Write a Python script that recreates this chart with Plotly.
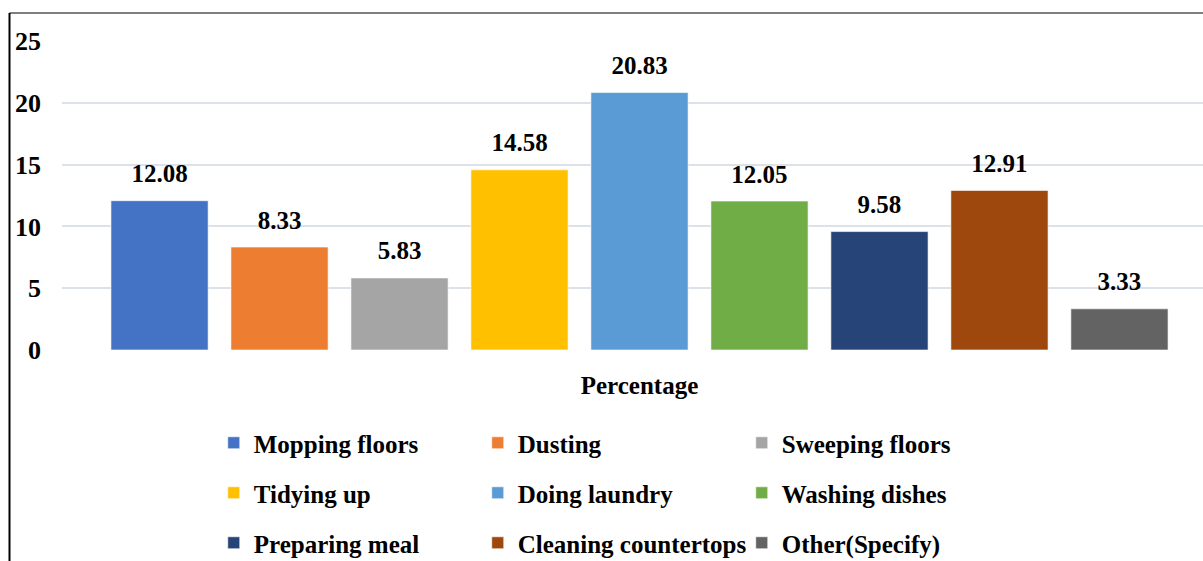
import plotly.graph_objects as go

category = ["Percentage"]
series_names = ["Mopping floors", "Dusting", "Sweeping floors", "Tidying up",
                "Doing laundry", "Washing dishes", "Preparing meal",
                "Cleaning countertops", "Other(Specify)"]
values = [12.08, 8.33, 5.83, 14.58, 20.83, 12.05, 9.58, 12.91, 3.33]
colors = ["#4472C4", "#ED7D31", "#A5A5A5", "#FFC000", "#5B9BD5",
          "#70AD47", "#264478", "#9E480E", "#636363"]
legend_rows = ["legend", "legend", "legend", "legend2", "legend2", "legend2",
               "legend3", "legend3", "legend3"]
y_ticks = [0, 5, 10, 15, 20, 25]

FONT = "Times New Roman, Liberation Serif, serif"

fig = go.Figure()
for i, (name, v, c) in enumerate(zip(series_names, values, colors)):
    fig.add_trace(go.Bar(
        x=category, y=[v], name=name, offsetgroup=str(i),
        marker=dict(color=c, line=dict(color="rgba(255,255,255,0.6)", width=1)),
        legend=legend_rows[i],
    ))
for i, v in enumerate(values):
    fig.add_trace(go.Scatter(
        x=category, y=[v], mode="markers+text", offsetgroup=str(i),
        text=[f"{v:.2f}"], textposition="top center",
        marker=dict(size=18, color="rgba(0,0,0,0)"),
        textfont=dict(family=FONT, size=25, color="black", weight="bold"),
        showlegend=False, hoverinfo="skip", cliponaxis=False,
    ))

W, H = 1203, 561
L, R, T, B = 62, 0, 41, 211
pw = W - L - R
full_pw = 1155  # width of the original plotting area (extends past the image)

legend_common = dict(
    orientation="h", xanchor="left", yanchor="middle", x=0.133,
    entrywidth=219, entrywidthmode="pixels",
    font=dict(family=FONT, size=25, color="black", weight="bold"),
    bgcolor="rgba(0,0,0,0)", tracegroupgap=0, itemclick=False,
)

fig.update_layout(
    width=W, height=H,
    margin=dict(l=L, r=R, t=T, b=B, pad=0, autoexpand=False),
    paper_bgcolor="white", plot_bgcolor="white",
    barmode="group", bargap=0.065, bargroupgap=0.19,
    scattermode="group", scattergap=0.065,
    showlegend=True,
    legend=dict(**legend_common, y=(0 - 93) / 309),
    legend2=dict(**legend_common, y=(0 - 143) / 309),
    legend3=dict(**legend_common, y=(0 - 193) / 309),
    xaxis=dict(
        type="category", range=[-0.5, -0.5 + pw / full_pw],
        showgrid=False, showline=False, zeroline=False,
        ticks="", ticklabelstandoff=18,
        tickfont=dict(family=FONT, size=25, color="black", weight="bold"),
    ),
    yaxis=dict(
        range=[0, 25], tickvals=y_ticks, showgrid=True,
        gridcolor="#DDE2EA", gridwidth=2, zeroline=False, showline=False,
        ticks="", ticklabelstandoff=20,
        tickfont=dict(family=FONT, size=26, color="black", weight="bold"),
    ),
    shapes=[
        dict(type="line", xref="paper", yref="paper",
             x0=(9.5 - L) / pw, x1=1.0, y0=(309 + 28) / 309, y1=(309 + 28) / 309,
             line=dict(color="#7F7F7F", width=2)),
        dict(type="line", xref="paper", yref="paper",
             x0=(9.5 - L) / pw, x1=(9.5 - L) / pw, y0=(309 + 28) / 309, y1=-B / 309,
             line=dict(color="black", width=2)),
    ],
)

fig.write_html("out.html")
